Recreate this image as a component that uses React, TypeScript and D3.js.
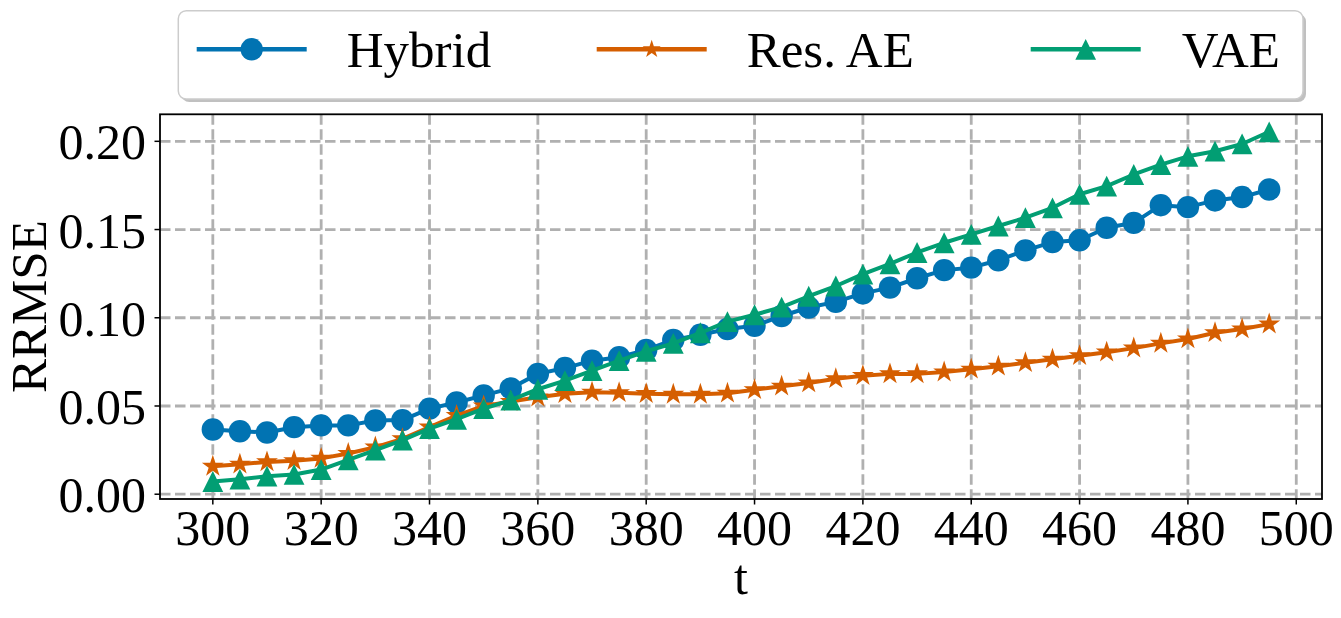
import * as d3 from 'd3'

// t steps (x categories)
const tValues = [
  300, 305, 310, 315, 320, 325, 330, 335, 340, 345,
  350, 355, 360, 365, 370, 375, 380, 385, 390, 395,
  400, 405, 410, 415, 420, 425, 430, 435, 440, 445,
  450, 455, 460, 465, 470, 475, 480, 485, 490, 495,
]

const hybrid = [
  0.0367, 0.0357, 0.0350, 0.0380, 0.0390, 0.0390, 0.0418, 0.0420, 0.0485, 0.0520,
  0.0560, 0.0600, 0.0682, 0.0715, 0.0757, 0.0776, 0.0818, 0.0874, 0.0904, 0.0936,
  0.0955, 0.1010, 0.1058, 0.1090, 0.1138, 0.1171, 0.1224, 0.1270, 0.1284, 0.1326,
  0.1382, 0.1429, 0.1439, 0.1510, 0.1538, 0.1638, 0.1627, 0.1665, 0.1684, 0.1727,
]

const resAE = [
  0.0158, 0.0170, 0.0183, 0.0190, 0.0203, 0.0231, 0.0267, 0.0314, 0.0380, 0.0446,
  0.0500, 0.0525, 0.0550, 0.0569, 0.0578, 0.0575, 0.0570, 0.0566, 0.0566, 0.0572,
  0.0592, 0.0612, 0.0630, 0.0654, 0.0672, 0.0682, 0.0682, 0.0692, 0.0708, 0.0725,
  0.0745, 0.0765, 0.0785, 0.0805, 0.0828, 0.0855, 0.0880, 0.0915, 0.0936, 0.0964,
]

const vae = [
  0.0072, 0.0085, 0.0102, 0.0112, 0.0140, 0.0195, 0.0250, 0.0307, 0.0372, 0.0425,
  0.0485, 0.0533, 0.0595, 0.0644, 0.0700, 0.0757, 0.0810, 0.0855, 0.0915, 0.0978,
  0.1017, 0.1060, 0.1122, 0.1180, 0.1247, 0.1305, 0.1370, 0.1425, 0.1473, 0.1520,
  0.1567, 0.1623, 0.1700, 0.1746, 0.1812, 0.1868, 0.1915, 0.1944, 0.1985, 0.2054,
]

const xTicks = [300, 320, 340, 360, 380, 400, 420, 440, 460, 480, 500]
const yTicks = [0, 0.05, 0.1, 0.15, 0.2]

type Marker = 'circle' | 'star' | 'triangle'

const series: { name: string; values: number[]; color: string; marker: Marker }[] = [
  { name: 'Hybrid', values: hybrid, color: '#0173b2', marker: 'circle' },
  { name: 'Res. AE', values: resAE, color: '#d55e00', marker: 'star' },
  { name: 'VAE', values: vae, color: '#029e73', marker: 'triangle' },
]

const W = 1341
const H = 618
const plot = { left: 160, right: 1322, top: 114.3, bottom: 499 }
const FONT = '"Liberation Serif", "Times New Roman", serif'

function markerPath(kind: Marker, size: number) {
  if (kind === 'circle') return d3.symbol(d3.symbolCircle, Math.PI * size * size)()!
  if (kind === 'star') return d3.symbol(d3.symbolStar, (size * size) / 0.8908)()!
  // matplotlib '^': equal width and height
  return `M0,${-size}L${size},${size}L${-size},${size}Z`
}

function markerSize(kind: Marker, legend = false) {
  if (kind === 'circle') return 11.2
  if (kind === 'star') return legend ? 9.5 : 11.5
  return 10.4
}

export default function App() {
  // 5% margins like matplotlib
  const xMin = d3.min(tValues)!
  const xMax = d3.max(tValues)!
  const xPad = (xMax - xMin) * 0.05
  const all = series.flatMap(s => s.values)
  const yMin = d3.min(all)!
  const yMax = d3.max(all)!
  const yPad = (yMax - yMin) * 0.05

  const x = d3.scaleLinear().domain([xMin - xPad, xMax + xPad]).range([plot.left, plot.right])
  const y = d3.scaleLinear().domain([yMin - yPad, yMax + yPad]).range([plot.bottom, plot.top])

  const line = (vals: number[]) =>
    d3.line<number>()
      .x((_, i) => x(tValues[i]))
      .y(d => y(d))(vals)!

  const legendX = [196.7, 596.7, 1030.7]
  const legendTextX = [346.7, 746.7, 1181.7]
  const legendY = 49.3

  return (
    <svg
      width={W}
      height={H}
      style={{ position: 'absolute', left: 0, top: 0, background: '#fff' }}
      fontFamily={FONT}
    >
      <defs>
        <clipPath id="plotClip">
          <rect x={plot.left} y={plot.top} width={plot.right - plot.left} height={plot.bottom - plot.top} />
        </clipPath>
      </defs>
      <rect x={0} y={0} width={W} height={H} fill="#fff" />

      {/* grid */}
      <g stroke="#b0b0b0" strokeWidth={2.8} strokeDasharray="10.5,4.5">
        {xTicks.map(t => (
          <line key={`gx${t}`} x1={x(t)} x2={x(t)} y1={plot.top} y2={plot.bottom} />
        ))}
        {yTicks.map(v => (
          <line key={`gy${v}`} x1={plot.left} x2={plot.right} y1={y(v)} y2={y(v)} />
        ))}
      </g>

      {/* series */}
      <g clipPath="url(#plotClip)">
        {series.map(s => (
          <g key={s.name}>
            <path d={line(s.values)} fill="none" stroke={s.color} strokeWidth={4} strokeLinejoin="round" />
            {s.values.map((v, i) => (
              <path
                key={i}
                d={markerPath(s.marker, markerSize(s.marker))}
                transform={`translate(${x(tValues[i])},${y(v)})`}
                fill={s.color}
              />
            ))}
          </g>
        ))}
      </g>

      {/* frame */}
      <rect
        x={plot.left}
        y={plot.top}
        width={plot.right - plot.left}
        height={plot.bottom - plot.top}
        fill="none"
        stroke="#000"
        strokeWidth={1.8}
      />

      {/* x axis */}
      {xTicks.map(t => (
        <g key={`xt${t}`} transform={`translate(${x(t)},${plot.bottom})`}>
          <line y1={0} y2={5.5} stroke="#000" strokeWidth={1.5} />
          <text y={46} textAnchor="middle" fontSize={50} fill="#000">{t}</text>
        </g>
      ))}
      <text x={(plot.left + plot.right) / 2} y={594} textAnchor="middle" fontSize={50} fill="#000">t</text>

      {/* y axis */}
      {yTicks.map(v => (
        <g key={`yt${v}`} transform={`translate(${plot.left},${y(v)})`}>
          <line x1={0} x2={-5.5} stroke="#000" strokeWidth={1.5} />
          <text x={-14} dy="0.36em" textAnchor="end" fontSize={50} fill="#000">{v.toFixed(2)}</text>
        </g>
      ))}
      <text
        transform={`translate(46,${(plot.top + plot.bottom) / 2}) rotate(-90)`}
        textAnchor="middle"
        fontSize={51}
        fill="#000"
      >
        RRMSE
      </text>

      {/* legend */}
      <rect x={181.3} y={13.7} width={1124.7} height={88.3} rx={8} fill="#8c8c8c" opacity={0.55} />
      <rect x={178.3} y={10.7} width={1124.7} height={88.3} rx={8} fill="#fff" stroke="#cccccc" strokeWidth={1.5} />
      {series.map((s, i) => (
        <g key={`lg${s.name}`}>
          <line x1={legendX[i]} x2={legendX[i] + 110} y1={legendY} y2={legendY} stroke={s.color} strokeWidth={4.5} />
          <path
            d={markerPath(s.marker, markerSize(s.marker, true))}
            transform={`translate(${legendX[i] + 55},${legendY})`}
            fill={s.color}
          />
          <text x={legendTextX[i]} y={66.7} fontSize={51} fill="#000">{s.name}</text>
        </g>
      ))}
    </svg>
  )
}
